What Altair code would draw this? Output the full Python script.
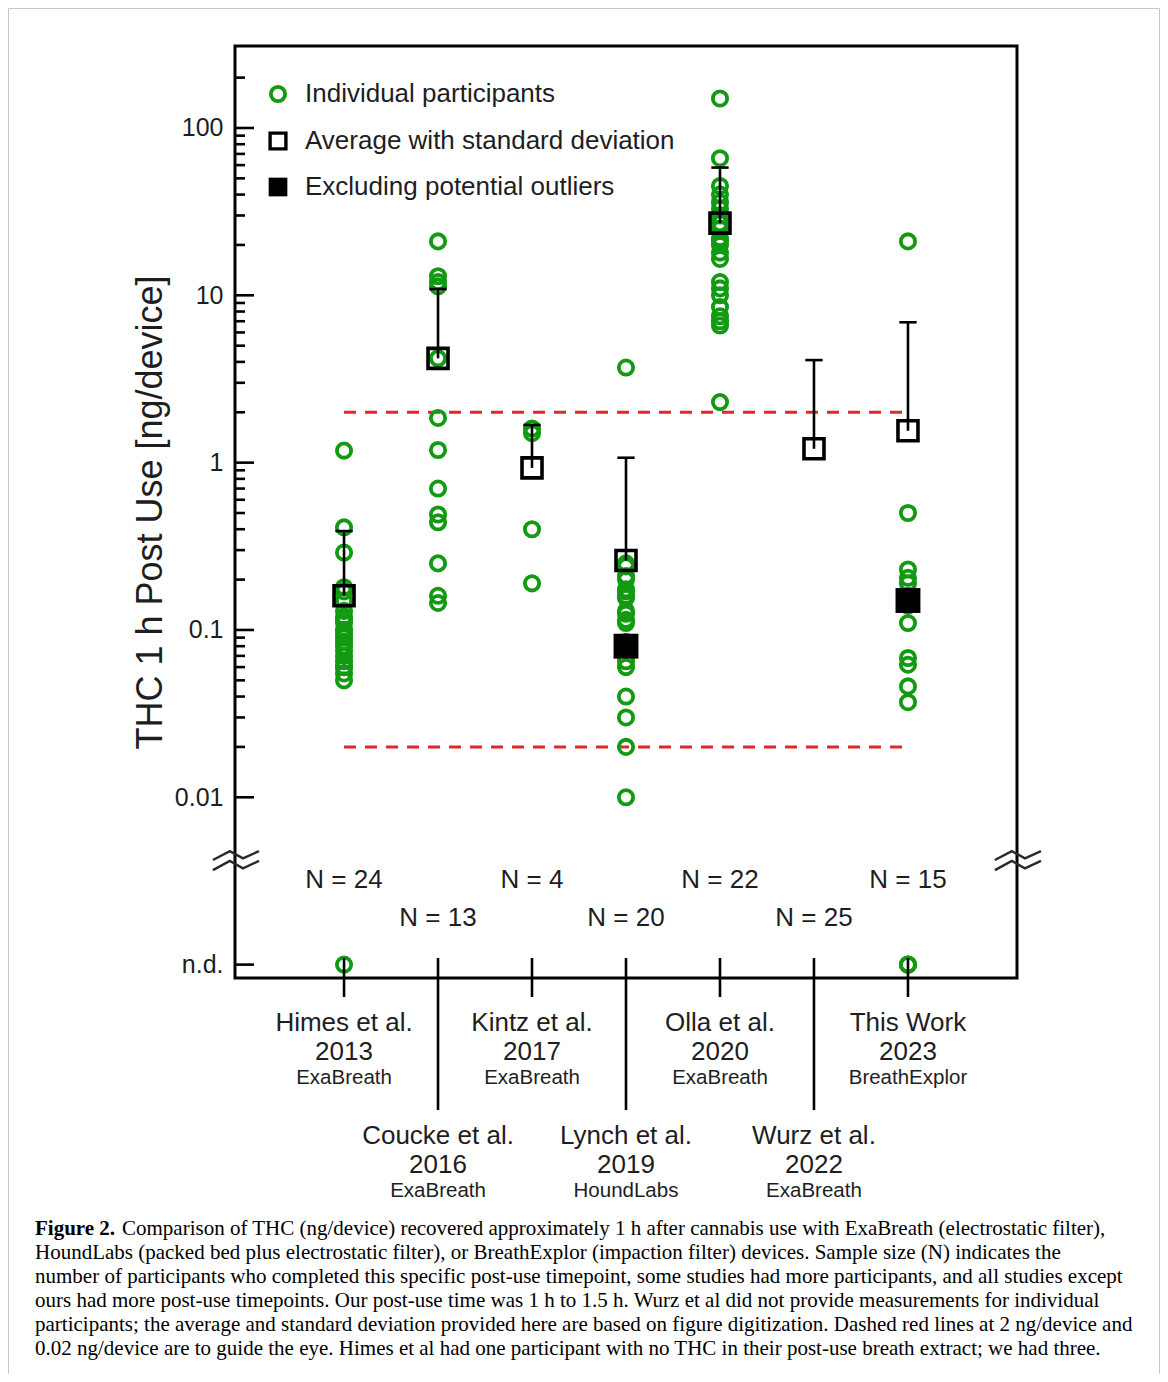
import altair as alt
import pandas as pd
import numpy as np

# ---------------- data ----------------
studies = ["Himes et al.", "Coucke et al.", "Kintz et al.", "Lynch et al.",
           "Olla et al.", "Wurz et al.", "This Work"]
years = ["2013", "2016", "2017", "2019", "2020", "2022", "2023"]
devices = ["ExaBreath", "ExaBreath", "ExaBreath", "HoundLabs",
           "ExaBreath", "ExaBreath", "BreathExplor"]
n_sizes = [24, 13, 4, 20, 22, 25, 15]
positions = [1, 2, 3, 4, 5, 6, 7]

himes = [1.18, 0.41, 0.29, 0.18, 0.17, 0.15, 0.13, 0.12, 0.115, 0.11, 0.10, 0.10,
         0.095, 0.09, 0.085, 0.08, 0.075, 0.07, 0.065, 0.06, 0.06, 0.055, 0.05]
coucke = [21, 13, 12, 11.3, 4.2, 1.85, 1.19, 0.70, 0.49, 0.44, 0.25, 0.16, 0.145]
kintz = [1.6, 1.5, 0.40, 0.19]
lynch = [3.7, 0.25, 0.24, 0.21, 0.20, 0.175, 0.17, 0.16, 0.155, 0.13, 0.125, 0.115,
         0.11, 0.085, 0.065, 0.06, 0.04, 0.03, 0.02, 0.01]
olla = [150, 66, 45, 40, 36, 33, 30, 27, 25, 22, 21, 20, 18, 16.5, 12, 11, 10,
        8.5, 7.5, 7, 6.6, 2.3]
wurz = []
this_work = [21, 0.50, 0.23, 0.205, 0.19, 0.16, 0.14, 0.11, 0.068, 0.062, 0.046, 0.037]
nd_counts = [1, 0, 0, 0, 0, 0, 3]

means = [0.16, 4.2, 0.93, 0.26, 27, 1.21, 1.55]
sd_tops = [0.39, 10.9, 1.68, 1.07, 58, 4.1, 6.9]
excl_positions = [4, 7]
excl_values = [0.08, 0.15]

guide_values = [2, 0.02]
major_ticks = [100, 10, 1, 0.1, 0.01]
minor_ticks = [k * 10.0 ** d for d in (-2, -1, 0, 1) for k in range(2, 10)] + [200]
ND_LOG = -3.0  # row where "n.d." is drawn on the log10 axis

caption_bold = "Figure 2."
caption_first = ("Comparison of THC (ng/device) recovered approximately 1 h after cannabis use "
                 "with ExaBreath (electrostatic filter),")
caption_rest = [
    "HoundLabs (packed bed plus electrostatic filter), or BreathExplor (impaction filter) devices. Sample size (N) indicates the",
    "number of participants who completed this specific post-use timepoint, some studies had more participants, and all studies except",
    "ours had more post-use timepoints. Our post-use time was 1 h to 1.5 h. Wurz et al did not provide measurements for individual",
    "participants; the average and standard deviation provided here are based on figure digitization. Dashed red lines at 2 ng/device and",
    "0.02 ng/device are to guide the eye. Himes et al had one participant with no THC in their post-use breath extract; we had three.",
]

# break symbol (zigzag) in data units: x offsets around the axis, y in log10
brk_dx = [-0.235, -0.055, 0.085, 0.255]
brk_up = [-2.375, -2.322, -2.365, -2.322]
brk_lo = [-2.435, -2.380, -2.425, -2.380]

# ---------------- tables ----------------
FONT = "Liberation Sans"
GREEN = "#139a13"
RED = "#e3262b"
INK = "#1e1e1e"
CIRCLE_SIZE = 205

series = [himes, coucke, kintz, lynch, olla, wurz, this_work]
rows = []
for p, vals in zip(positions, series):
    for v in vals:
        rows.append({"pos": p, "ly": float(np.log10(v))})
for p, c in zip(positions, nd_counts):
    for _ in range(c):
        rows.append({"pos": p, "ly": ND_LOG})
pts = pd.DataFrame(rows)

summ = pd.DataFrame({"pos": positions, "mean": np.log10(means), "top": np.log10(sd_tops)})
excl = pd.DataFrame({"pos": excl_positions, "ly": np.log10(excl_values)})
guides = pd.DataFrame({"x1": [positions[0]] * 2, "x2": [positions[-1]] * 2,
                       "ly": np.log10(guide_values)})
lab = pd.DataFrame({"pos": positions, "name": studies, "year": years, "device": devices,
                    "N": [f"N = {n}" for n in n_sizes],
                    "level": ["odd" if i % 2 == 0 else "even" for i in range(7)]})
ticks = pd.DataFrame({"ly": list(np.log10(major_ticks)) + [ND_LOG] + list(np.log10(minor_ticks)),
                      "kind": ["major"] * (len(major_ticks) + 1) + ["minor"] * len(minor_ticks)})
brk_rows = []
for side, ax in (("L", -0.16), ("R", 8.16)):
    for nm, ys in (("u", brk_up), ("l", brk_lo)):
        for i, (dx, yy) in enumerate(zip(brk_dx, ys)):
            brk_rows.append({"g": side + nm, "i": i, "x": ax + dx, "ly": yy})
brk = pd.DataFrame(brk_rows)
one = pd.DataFrame({"a": [0]})

XS = alt.Scale(domain=[-0.16, 8.16], nice=False, zero=False)
YS = alt.Scale(domain=[-3.08, 2.49], nice=False, zero=False)
YAX = alt.Axis(values=[2, 1, 0, -1, -2, -3],
               labelExpr="datum.value == 2 ? '100' : datum.value == 1 ? '10' : datum.value == 0 ? '1' : "
                         "datum.value == -1 ? '0.1' : datum.value == -2 ? '0.01' : 'n.d.'",
               ticks=False, domain=False, grid=False, labelFont=FONT, labelFontSize=25,
               labelColor=INK, labelPadding=12,
               title="THC 1 h Post Use [ng/device]", titleFont=FONT, titleFontSize=36,
               titleFontWeight="normal", titleColor=INK, titleX=-85, titleY=466,
               titleAngle=270, titleAlign="center", titleBaseline="middle")


def X(f="pos"):
    return alt.X(f"{f}:Q", scale=XS, axis=None)


def Y(f="ly"):
    return alt.Y(f"{f}:Q", scale=YS, axis=YAX)


layers = []

# outer frame of the figure
layers.append(alt.Chart(one).mark_rect(fillOpacity=0, stroke="#c8c8c8", strokeWidth=1).encode(
    x=alt.value(-226.5), x2=alt.value(924.5), y=alt.value(-37.5), y2=alt.value(1335.5)))

# dashed guide lines
layers.append(alt.Chart(guides).mark_rule(color=RED, strokeWidth=3, strokeDash=[12, 9]).encode(
    x=X("x1"), x2="x2:Q", y=Y()))

# individual participants
layers.append(alt.Chart(pts).mark_point(shape="circle", filled=False, color=GREEN, size=CIRCLE_SIZE,
                                        strokeWidth=3.8, opacity=1).encode(x=X(), y=Y()))

# error bars (upper SD)
layers.append(alt.Chart(summ).mark_rule(color="black", strokeWidth=2.6).encode(
    x=X(), y=Y("mean"), y2="top:Q"))
layers.append(alt.Chart(summ).mark_point(shape="M-1,0L1,0", size=300, filled=False,
                                         color="black", strokeWidth=2.6, opacity=1).encode(
    x=X(), y=Y("top")))

# averages (open squares)
layers.append(alt.Chart(summ).mark_point(shape="square", filled=False, color="black", size=400,
                                         strokeWidth=3.6, opacity=1).encode(x=X(), y=Y("mean")))
# excluding outliers (filled squares)
layers.append(alt.Chart(excl).mark_point(shape="square", filled=True, color="black", size=620,
                                         opacity=1).encode(x=X(), y=Y()))

# inner y ticks
layers.append(alt.Chart(ticks).transform_filter("datum.kind == 'major'").mark_rule(
    color="black", strokeWidth=2.6).encode(y=Y(), x=alt.value(0), x2=alt.value(19)))
layers.append(alt.Chart(ticks).transform_filter("datum.kind == 'minor'").mark_rule(
    color="black", strokeWidth=2.6).encode(y=Y(), x=alt.value(0), x2=alt.value(10)))

# axis break marks
layers.append(alt.Chart(brk).mark_line(color="#2a2a2a", strokeWidth=2.4).encode(
    x=X("x"), y=Y(), detail="g:N", order="i:Q"))

# bottom ticks
layers.append(alt.Chart(lab).transform_filter("datum.level == 'odd'").mark_rule(
    color="black", strokeWidth=2.6).encode(x=X(), y=alt.value(912), y2=alt.value(951)))
layers.append(alt.Chart(lab).transform_filter("datum.level == 'even'").mark_rule(
    color="black", strokeWidth=2.6).encode(x=X(), y=alt.value(912), y2=alt.value(1064)))

# N labels and study labels
for lvl, yN, yName, yYear, yDev in (("odd", 834, 977, 1006, 1032), ("even", 872, 1090, 1119, 1145)):
    base = alt.Chart(lab).transform_filter(f"datum.level == '{lvl}'")
    layers.append(base.mark_text(font=FONT, fontSize=26, color=INK, baseline="middle").encode(
        x=X(), y=alt.value(yN), text="N:N"))
    layers.append(base.mark_text(font=FONT, fontSize=26, color=INK, baseline="middle").encode(
        x=X(), y=alt.value(yName), text="name:N"))
    layers.append(base.mark_text(font=FONT, fontSize=26, color=INK, baseline="middle").encode(
        x=X(), y=alt.value(yYear), text="year:N"))
    layers.append(base.mark_text(font=FONT, fontSize=20.5, color=INK, baseline="middle").encode(
        x=X(), y=alt.value(yDev), text="device:N"))

# legend
layers.append(alt.Chart(one).mark_point(shape="circle", filled=False, color=GREEN, size=CIRCLE_SIZE,
                                        strokeWidth=3.8, opacity=1).encode(
    x=alt.value(43), y=alt.value(48)))
layers.append(alt.Chart(one).mark_point(shape="square", filled=False, color="black", size=250,
                                        strokeWidth=3.4, opacity=1).encode(
    x=alt.value(43), y=alt.value(95)))
layers.append(alt.Chart(one).mark_point(shape="square", filled=True, color="black", size=350,
                                        opacity=1).encode(x=alt.value(43), y=alt.value(141)))
for yy, txt in ((48, "Individual participants"), (95, "Average with standard deviation"),
                (141, "Excluding potential outliers")):
    layers.append(alt.Chart(one).mark_text(font=FONT, fontSize=26, color=INK, align="left",
                                           baseline="middle").encode(
        x=alt.value(70), y=alt.value(yy), text=alt.value(txt)))

# caption
CAP_FONT = "Liberation Serif"
CAP_SIZE = 21
layers.append(alt.Chart(one).mark_text(font=CAP_FONT, fontSize=CAP_SIZE, fontWeight="bold",
                                       color="black", align="left", baseline="alphabetic").encode(
    x=alt.value(-200), y=alt.value(1189), text=alt.value(caption_bold)))
layers.append(alt.Chart(one).mark_text(font=CAP_FONT, fontSize=CAP_SIZE, color="black",
                                       align="left", baseline="alphabetic").encode(
    x=alt.value(-113), y=alt.value(1189), text=alt.value(caption_first)))
layers.append(alt.Chart(one).mark_text(font=CAP_FONT, fontSize=CAP_SIZE, color="black",
                                       align="left", baseline="alphabetic", lineHeight=24).encode(
    x=alt.value(-200), y=alt.value(1213), text=alt.value(caption_rest)))

chart = alt.layer(*layers).properties(
    width=782, height=932,
    autosize=alt.AutoSizeParams(type="none"),
    padding={"left": 227, "top": 38, "right": 143, "bottom": 396},
    background="white",
).configure_view(stroke="black", strokeWidth=3)

chart.save("out.html", embed_options={"renderer": "svg", "actions": False})
